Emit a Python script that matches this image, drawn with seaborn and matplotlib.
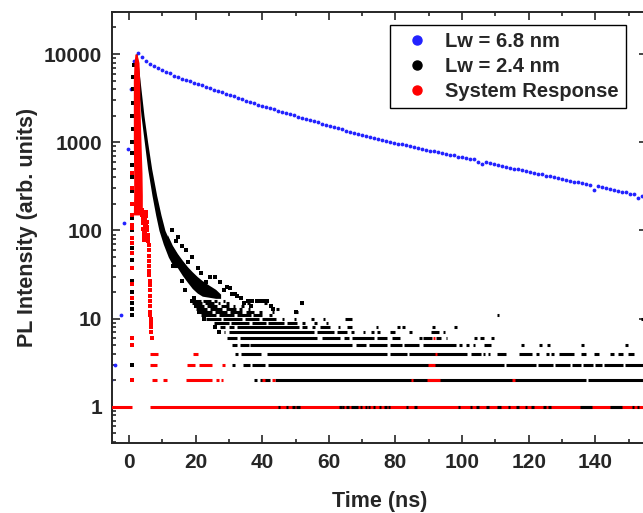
import seaborn as sns
import matplotlib.pyplot as plt
from matplotlib.lines import Line2D
from matplotlib.ticker import NullFormatter

# ---- Lw = 6.8 nm (blue) ----
blue_time = [-5.3, -4.2, -2.3, -1.5, -0.4, 0.5, 1.6,
             2.8, 4.0, 5.2, 6.4, 7.6, 8.8, 10.0, 11.2, 12.4, 13.6,
             14.8, 16.0, 17.2, 18.4, 19.6, 20.8, 22.0, 23.2, 24.4, 25.6,
             26.8, 28.0, 29.2, 30.4, 31.6, 32.8, 34.0, 35.2, 36.4, 37.6,
             38.8, 40.0, 41.2, 42.4, 43.6, 44.8, 46.0, 47.2, 48.4, 49.6,
             50.8, 52.0, 53.2, 54.4, 55.6, 56.8, 58.0, 59.2, 60.4, 61.6,
             62.8, 64.0, 65.2, 66.4, 67.6, 68.8, 70.0, 71.2, 72.4, 73.6,
             74.8, 76.0, 77.2, 78.4, 79.6, 80.8, 82.0, 83.2, 84.4, 85.6,
             86.8, 88.0, 89.2, 90.4, 91.6, 92.8, 94.0, 95.2, 96.4, 97.6,
             98.8, 100.0, 101.2, 102.4, 103.6, 104.8, 106.0, 107.2, 108.4, 109.6,
             110.8, 112.0, 113.2, 114.4, 115.6, 116.8, 118.0, 119.2, 120.4, 121.6,
             122.8, 124.0, 125.2, 126.4, 127.6, 128.8, 130.0, 131.2, 132.4, 133.6,
             134.8, 136.0, 137.2, 138.4, 139.6, 140.8, 142.0, 143.2, 144.4, 145.6,
             146.8, 148.0, 149.2, 150.4, 151.6, 152.8, 154.0]
blue_counts = [2, 3, 11, 122, 836, 4000, 8300,
               10190, 9333, 8414, 7762, 7328, 6918, 6607, 6194, 6026, 5702,
               5546, 5200, 5082, 4898, 4742, 4560, 4406, 4236, 4102, 3963,
               3802, 3681, 3556, 3420, 3311, 3177, 3083, 2958, 2858, 2754,
               2667, 2594, 2500, 2432, 2355, 2275, 2213, 2138, 2080, 2018,
               1950, 1901, 1837, 1791, 1730, 1683, 1629, 1585, 1531, 1493,
               1445, 1409, 1358, 1324, 1282, 1247, 1202, 1175, 1138, 1117,
               1086, 1067, 1038, 1019, 991, 968, 944, 927, 899, 885,
               861, 845, 824, 805, 789, 769, 759, 731, 724, 708,
               685, 676, 661, 640, 650, 600, 565, 590, 578, 562,
               551, 538, 525, 515, 501, 493, 480, 471, 459, 450,
               439, 433, 419, 413, 401, 394, 384, 377, 368, 359,
               353, 344, 337, 329, 285, 316, 307, 302, 294, 288,
               282, 274, 270, 262, 258, 236, 247]

# ---- Lw = 2.4 nm (black) ----
# dense decay band: counts and left/right time edges (ns)
black_band_counts = [10000, 7000, 4000, 2000, 1000, 500, 250, 150, 100, 70, 50, 38]
black_band_left = [1.9, 2.3, 2.9, 3.6, 4.6, 5.6, 6.9, 8.0, 9.0, 10.3, 11.8, 13.5]
black_band_right = [2.4, 2.9, 3.6, 4.5, 5.6, 6.8, 8.3, 9.6, 10.8, 12.6, 15.0, 17.5]
# noisy cloud after the fast decay
black_cloud_time = [11.5, 13, 14.5, 16, 17.5, 19, 20.5, 22, 24, 26, 27.5]
black_cloud_low = [64, 48, 38, 31, 26, 22, 19.5, 18, 17.5, 17, 17]
black_cloud_high = [90, 68, 55, 46, 39, 34, 30, 27, 24, 21.5, 19]
# single channels (rising edge and scattered outliers)
black_pts_time = [0.8, 0.8, 0.9, 0.8, 0.9, 0.9, 0.8, 0.8, 0.9, 0.9, 0.9,
                  0.9, 0.8, 0.9, 0.9, 1.0, 0.9, 1.0, 1.0, 1.1, 1.0, 1.1, 1.2, 1.3, 1.4,
                  15.8, 17.1, 14.8, 18.9, 20.8, 24.4, 25.9, 29.4, 30.4, 30.9, 31.9, 32.4,
                  35.6, 35.9, 37.0, 38.4, 39.5, 40.9, 41.4, 42.5, 43.2, 51.9, 50.2,
                  18.9, 16.7, 22.4, 24.4, 25.9, 26.9, 13.3, 15.8, 20.0, 21.0,
                  23.0, 27.2, 28.5, 33.5, 34.5, 36.5, 21.5, 12.8, 14.0, 17.8, 19.6]
black_pts_counts = [2, 3, 3, 5, 11, 13, 15, 20, 27, 46, 63,
                    100, 140, 200, 280, 400, 550, 750, 1000, 1400, 2000, 2800, 4000, 5500, 7500,
                    66, 60, 85, 50, 38, 30, 30, 23, 22, 19, 19, 18,
                    16, 16, 16, 16, 16, 16, 16, 14, 13, 15, 12,
                    16, 21, 10, 11, 8, 7, 40, 27, 14, 12,
                    26, 26, 21, 17, 15, 14, 33, 100, 75, 44, 17]
# runs of channels sitting on the same integer count
black_seg_level = ([2] * 4 + [3] * 12 + [4] * 19 + [5] * 17 + [6] * 14 + [7] * 12 + [8] * 13
                   + [9] * 8 + [10] * 10 + [11] * 6 + [12] * 7 + [13] * 6 + [14] * 6 + [15] * 7 + [16] * 6)
black_seg_start = [37.5, 39.4, 43.9, 137.9,
                   30.9, 34.3, 36.8, 41.8, 113.2, 122.7, 128.0, 133.0, 136.2, 140.0, 142.5, 148.8,
                   31.8, 33.7, 41.5, 78.3, 84.0, 102.6, 106.2, 107.7, 110.6, 117.1, 122.2, 125.2, 126.7,
                   129.2, 135.7, 139.7, 144.5, 146.7, 149.7,
                   30.9, 33.4, 36.4, 68.0, 72.0, 78.3, 82.5, 88.4, 99.1, 101.2, 103.2, 106.6, 117.7,
                   123.1, 125.5, 135.8, 149.0,
                   29.4, 33.4, 57.9, 64.4, 67.0, 74.3, 79.0, 87.1, 88.4, 92.1, 95.1, 103.6, 105.4, 108.7,
                   28.4, 29.9, 56.4, 62.4, 66.6, 70.1, 72.5, 74.6, 78.5, 84.2, 90.6, 94.2,
                   27.4, 29.9, 32.4, 52.0, 55.0, 57.4, 62.6, 65.5, 74.1, 80.6, 82.1, 90.9, 97.7,
                   25.5, 30.6, 36.8, 41.7, 47.5, 52.0, 55.5, 59.0,
                   23.0, 28.2, 34.8, 40.0, 45.8, 49.4, 54.6, 58.1, 64.8, 153.6,
                   21.5, 27.0, 32.4, 37.2, 42.1, 110.4,
                   20.5, 25.8, 30.3, 35.0, 39.1, 42.8, 49.8,
                   20.0, 24.3, 29.0, 33.1, 35.6, 44.1,
                   19.5, 23.3, 27.5, 31.1, 33.6, 42.1,
                   19.0, 22.8, 26.6, 29.1, 35.5, 40.5, 51.5,
                   18.5, 22.2, 25.6, 28.1, 38.0, 41.0]
black_seg_end = [38.3, 42.4, 137.3, 155.5,
                 31.7, 36.3, 40.8, 112.6, 122.1, 127.4, 132.4, 135.6, 139.4, 141.9, 148.2, 155.5,
                 32.6, 39.7, 77.5, 83.5, 101.5, 105.6, 107.0, 108.5, 113.1, 121.1, 123.0, 126.0, 127.5,
                 133.7, 137.2, 141.2, 145.7, 148.2, 151.7,
                 32.4, 35.9, 67.0, 71.0, 77.5, 82.0, 87.1, 98.1, 100.1, 102.0, 104.0, 108.6, 118.5,
                 123.9, 126.3, 136.6, 149.8,
                 32.4, 56.4, 63.4, 66.0, 73.5, 77.5, 81.5, 88.1, 91.1, 93.6, 95.6, 104.6, 106.6, 109.5,
                 28.9, 55.4, 61.4, 65.5, 67.4, 70.9, 73.5, 75.4, 80.0, 85.0, 93.1, 95.0,
                 28.9, 31.4, 51.0, 53.4, 55.8, 60.4, 63.4, 67.0, 74.9, 81.4, 82.9, 91.8, 98.5,
                 30.0, 36.0, 41.0, 46.5, 50.3, 52.8, 56.3, 59.8,
                 27.5, 34.0, 39.0, 44.0, 46.6, 50.2, 55.4, 58.9, 66.8, 154.4,
                 26.0, 31.5, 36.5, 40.0, 42.9, 111.2,
                 25.0, 29.5, 34.0, 37.5, 39.9, 43.6, 50.6,
                 23.5, 28.0, 32.0, 33.9, 36.4, 44.9,
                 22.5, 26.5, 30.0, 31.9, 34.4, 42.9,
                 22.0, 25.5, 27.4, 29.9, 36.3, 41.3, 52.3,
                 21.5, 24.5, 26.4, 28.9, 38.8, 41.8]
# black channels at 1 count where the system response is empty
black_one_start = [44.6, 47.1, 49.0, 50.1, 63.0, 64.0, 65.2, 66.5, 69.2, 70.7, 71.7, 73.2, 75.0,
                   76.7, 77.7, 83.2, 85.7, 98.7, 102.3, 104.3, 107.3, 110.4, 113.8, 116.3, 118.8,
                   120.8, 124.4, 125.9, 135.5, 144.5, 150.9, 152.4]
black_one_end = [45.3, 47.8, 49.7, 51.2, 63.9, 64.6, 65.9, 68.6, 69.9, 71.4, 72.4, 73.9, 75.7,
                 77.4, 78.4, 83.9, 86.4, 99.4, 103.0, 105.0, 108.0, 111.8, 114.5, 117.0, 119.5,
                 121.5, 125.1, 126.6, 138.9, 147.9, 151.6, 153.1]

# ---- System Response (red) ----
red_spike_counts = [10000, 8000, 5000, 2500, 1000, 450, 250, 150]
red_spike_left = [1.8, 1.5, 1.3, 1.3, 1.3, 1.4, 1.4, 1.3]
red_spike_right = [2.4, 3.0, 3.2, 3.3, 3.6, 3.9, 4.0, 4.0]
red_pts_time = [0.9, 0.9, 0.9, 0.9, 0.9, 0.9, 0.9, 0.9, 0.9, 0.9, 0.9, 1.0, 1.0, 0.95, 0.9,
                3.9, 4.0, 4.1, 4.2, 4.3, 4.4, 4.5, 4.6, 4.7, 4.8, 4.9, 5.0, 5.1, 5.2, 5.3,
                5.4, 5.5, 5.6, 4.2, 4.5, 4.8, 5.0, 5.3, 4.4, 5.7, 5.8,
                5.9, 5.9, 6.0, 6.0, 6.0, 6.1, 6.1, 6.2, 6.2, 6.3, 6.3, 6.3, 6.4, 6.4, 6.4,
                6.5, 6.5, 6.6, 6.7, 6.8]
red_pts_counts = [116, 107, 82, 72, 55, 38, 25, 17, 6, 5, 2, 450, 300, 200, 150,
                  170, 150, 135, 120, 105, 95, 88, 82, 95, 110, 130, 150, 160, 145, 125,
                  110, 100, 90, 160, 140, 140, 120, 100, 78, 80, 75,
                  68, 60, 52, 45, 40, 35, 31, 27, 24, 21, 18, 16, 14, 12, 11,
                  10, 9, 8, 7, 6]
red_seg_level = [1] * 2 + [2] * 10 + [3] * 5 + [4] * 3 + [6]
red_seg_start = [-5.5, 6.3,
                 6.8, 10.2, 17.1, 26.2, 27.5, 39.9, 42.9, 84.6, 89.6, 115.0,
                 6.4, 17.3, 21.0, 28.0, 89.8,
                 6.4, 19.3, 91.8,
                 91.2]
red_seg_end = [0.9, 155.5,
               8.3, 11.3, 24.9, 27.0, 28.3, 40.9, 43.7, 85.4, 93.4, 115.8,
               8.4, 19.8, 24.9, 28.8, 91.8,
               8.8, 20.8, 92.6,
               92.0]

x_ticks = [0, 20, 40, 60, 80, 100, 120, 140]
x_minor = [10, 30, 50, 70, 90, 110, 130, 150]
y_ticks = [1, 10, 100, 1000, 10000]
y_tick_labels = ['1', '10', '100', '1000', '10000']
labels = ['Lw = 6.8 nm', 'Lw = 2.4 nm', 'System Response']
colors = ['#2222ff', 'black', '#ff0000']

sns.set_style('ticks')
plt.rcParams['font.family'] = ['Liberation Sans', 'DejaVu Sans']
plt.rcParams['font.weight'] = 'bold'
plt.rcParams['axes.labelweight'] = 'bold'

fig = plt.figure(figsize=(6.43, 5.13), dpi=100)
ax = fig.add_axes([0.1742, 0.1365, 0.832, 0.8402])

mk = dict(marker='s', s=5, linewidth=0, legend=False, ax=ax)
lw_seg = 2.2

# blue
sns.scatterplot(x=blue_time, y=blue_counts, color=colors[0], zorder=2,
                marker='o', s=7.5, linewidth=0, legend=False, ax=ax)

# black
ax.fill_betweenx(black_band_counts, black_band_left, black_band_right, color='black', lw=0, zorder=3)
ax.fill_between(black_cloud_time, black_cloud_low, black_cloud_high, color='black', lw=0, zorder=3)
sns.scatterplot(x=black_pts_time, y=black_pts_counts, color='black', zorder=3, **mk)
ax.hlines(black_seg_level, black_seg_start, black_seg_end, color='black', lw=lw_seg, zorder=3)

# red
ax.fill_betweenx(red_spike_counts, red_spike_left, red_spike_right, color=colors[2], lw=0, zorder=4)
sns.scatterplot(x=red_pts_time, y=red_pts_counts, color=colors[2], zorder=4, **mk)
ax.hlines(red_seg_level, red_seg_start, red_seg_end, color=colors[2], lw=lw_seg, zorder=4)
ax.hlines([1] * len(black_one_start), black_one_start, black_one_end, color='black', lw=lw_seg, zorder=5)

ax.set_yscale('log')
ax.set_xlim(-5.1, 155.5)
ax.set_ylim(0.39, 30000)
ax.set_xticks(x_ticks)
ax.set_xticks(x_minor, minor=True)
ax.set_yticks(y_ticks)
ax.set_yticklabels(y_tick_labels)
ax.yaxis.set_minor_formatter(NullFormatter())

ax.tick_params(which='both', direction='in', top=True, right=True, width=1.2, labelsize=15, pad=7)
ax.tick_params(which='major', length=6)
ax.tick_params(which='minor', length=3)
for sp in ax.spines.values():
    sp.set_linewidth(1.4)

ax.set_xlabel('Time (ns)', fontsize=15.5, labelpad=14)
ax.set_ylabel('PL Intensity (arb. units)', fontsize=15.5, labelpad=4)

handles = [Line2D([], [], marker='o', ls='', color=c, markersize=6.5) for c in colors]
leg = ax.legend(handles, labels, loc='upper right', bbox_to_anchor=(626 / 643, 1 - 25 / 513),
                bbox_transform=fig.transFigure, borderaxespad=0, fontsize=14.5,
                frameon=True, fancybox=False, edgecolor='black', framealpha=1,
                handlelength=2.0, handletextpad=0.4, labelspacing=0.3, borderpad=0.35)
leg.get_frame().set_linewidth(1.0)

fig.savefig('out.png', dpi=100)
